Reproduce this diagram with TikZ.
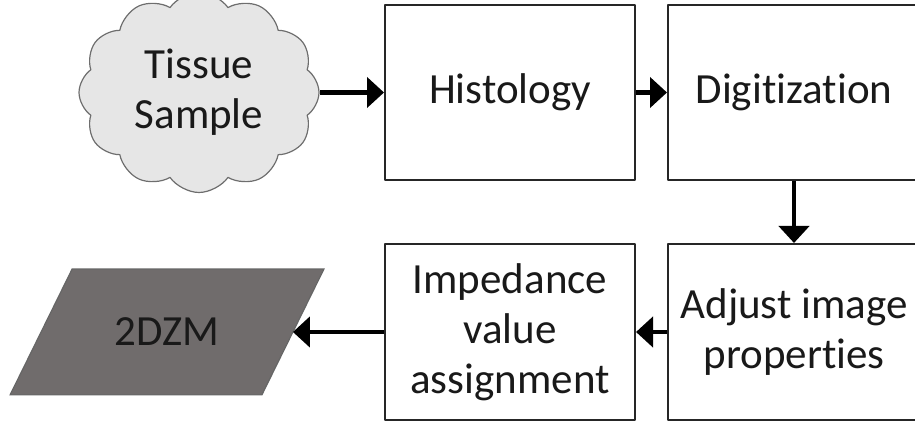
\documentclass[tikz,border=0pt]{standalone}
\usepackage{fontspec}
\setmainfont{Carlito}[Ligatures=NoCommon]
\usetikzlibrary{arrows.meta,shapes.symbols,backgrounds,positioning}
\definecolor{cloudfill}{RGB}{230,230,230}
\definecolor{cloudline}{RGB}{110,110,110}
\definecolor{zmfill}{RGB}{112,108,108}
\definecolor{txt}{RGB}{25,25,25}
\begin{document}
\begin{tikzpicture}[x=0.5pt, y=-0.5pt, font=\fontsize{21.5}{25}\selectfont, text=txt,
  line join=round, >={Triangle[width=15pt,length=8.5pt]},
  stepbox/.style={draw=black!85, line width=1pt, fill=white, align=center,
    minimum width=125pt, minimum height=87.5pt, inner sep=0pt},
  cloudbox/.style={cloud, cloud puffs=12, cloud puff arc=110, cloud ignores aspect,
    draw=cloudline, line width=0.6pt, fill=cloudfill, align=center,
    minimum width=120pt, minimum height=100pt, inner sep=0pt},
  zmbox/.style={minimum width=125.5pt, minimum height=62.5pt, inner sep=0pt},
  flow/.style={->, line width=2.4pt}]
\useasboundingbox (0,0) rectangle (915,421);
\def\ytop{92.5} \def\ybot{332} \def\slant{15.5pt}
% top row
\node[cloudbox] (tissue) at (199,\ytop) {Tissue\\Sample};
\node[stepbox] (histo) at (510,\ytop) {Histology};
\node[stepbox, minimum width=126pt] (digit) at (794,\ytop) {Digitization};
% bottom row
\node[stepbox, minimum width=126pt, minimum height=88pt] (adjust) at (794,\ybot) {Adjust image\\properties};
\node[stepbox, minimum height=88pt] (imped) at (510,\ybot) {Impedance\\value\\assignment};
\node[zmbox] (zm) at (167,\ybot) {2DZM};
\begin{scope}[on background layer]
\draw[fill=zmfill, draw=black!60, line width=0.6pt]
  ([xshift=-\slant]zm.south west) -- ([xshift=-\slant]zm.south east)
  -- ([xshift=\slant]zm.north east) -- ([xshift=\slant]zm.north west) -- cycle;
\end{scope}
% arrows
\draw[flow] (tissue.east|-0,\ytop) -- (histo.west);
\draw[flow] (histo) -- (digit);
\draw[flow] (digit) -- (digit|-adjust.north);
\draw[flow] (adjust) -- (imped);
\draw[flow] (imped) -- (zm);
\end{tikzpicture}
\end{document}
